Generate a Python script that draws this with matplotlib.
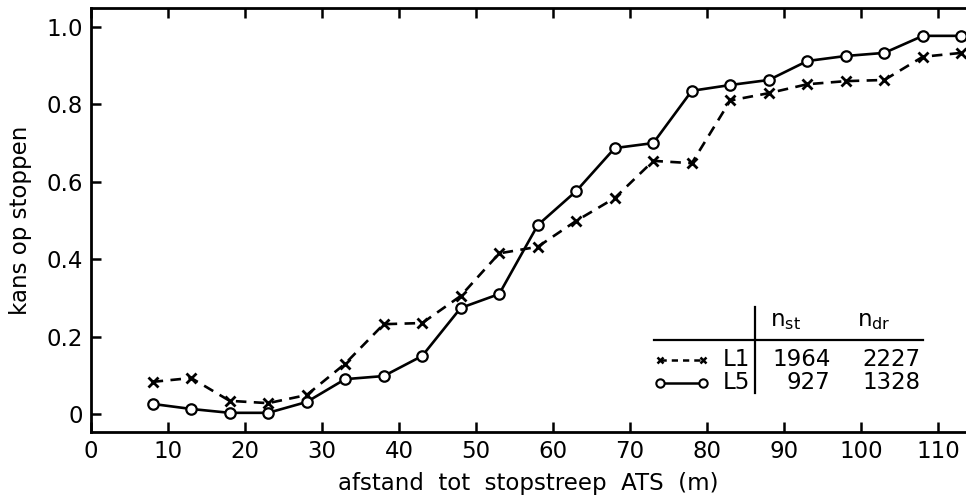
import numpy as np
import matplotlib
matplotlib.use("Agg")
import matplotlib.pyplot as plt
from matplotlib.lines import Line2D

plt.rcParams["font.family"] = "DejaVu Sans"
plt.rcParams["mathtext.default"] = "regular"

# afstand tot stopstreep (m)
afstand = [8, 13, 18, 23, 28, 33, 38, 43, 48, 53, 58, 63, 68, 73, 78, 83, 88, 93, 98, 103, 108, 113]

# kans op stoppen
kans_L1 = [0.083, 0.093, 0.034, 0.028, 0.049, 0.13, 0.232, 0.235, 0.305, 0.415, 0.432,
           0.499, 0.558, 0.654, 0.648, 0.81, 0.829, 0.852, 0.86, 0.863, 0.923, 0.933]
kans_L5 = [0.026, 0.013, 0.003, 0.003, 0.031, 0.09, 0.098, 0.15, 0.274, 0.31, 0.488,
           0.576, 0.687, 0.70, 0.835, 0.85, 0.863, 0.912, 0.925, 0.933, 0.977, 0.977]

# tabel
namen = ["L1", "L5"]
n_st = [1964, 927]
n_dr = [2227, 1328]

xticks = [0, 10, 20, 30, 40, 50, 60, 70, 80, 90, 100, 110]
yticks = [0, 0.2, 0.4, 0.6, 0.8, 1.0]
ylabels = ["0", "0.2", "0.4", "0.6", "0.8", "1.0"]

fig = plt.figure(figsize=(9.66, 4.99), dpi=100)
ax = fig.add_axes([0.0942, 0.1343, 0.9058, 0.8497])

ax.plot(afstand, kans_L1, color="black", lw=1.9, ls=(0, (4, 2.8)),
        marker="x", ms=7, mew=2, clip_on=False)
ax.plot(afstand, kans_L5, color="black", lw=1.9, ls="-",
        marker="o", ms=7.5, mew=1.6, mfc="white", clip_on=False)

ax.set_xlim(0, 113.6)
ax.set_ylim(-0.0465, 1.049)
ax.set_xticks(xticks)
ax.set_yticks(yticks)
ax.set_yticklabels(ylabels)
ax.tick_params(direction="in", length=7.5, width=1.8, labelsize=16.5, pad=6)
ax.tick_params(axis="x", top=True)
ax.spines["right"].set_visible(False)
for s in ["left", "bottom", "top"]:
    ax.spines[s].set_linewidth(2)

ax.set_xlabel("afstand  tot  stopstreep  ATS  (m)", fontsize=16.5, labelpad=6)
ax.set_ylabel("kans op stoppen", fontsize=16.5, labelpad=10)

# tabel rechtsonder
tr = ax.transAxes
ax.add_line(Line2D([0.644, 0.951], [0.217, 0.217], color="black", lw=1.6, transform=tr))
ax.add_line(Line2D([0.759, 0.759], [0.092, 0.295], color="black", lw=1.6, transform=tr))
ax.text(0.776, 0.262, "$n_{st}$", transform=tr, fontsize=16.5, va="center")
ax.text(0.875, 0.262, "$n_{dr}$", transform=tr, fontsize=16.5, va="center")
rij_y = [0.170, 0.116]
stijlen = [dict(ls=(0, (2.5, 2)), marker="x", ms=5, mew=1.8, mfc="black"),
           dict(ls="-", marker="o", ms=6, mew=1.5, mfc="white")]
for i in range(2):
    ax.add_line(Line2D([0.650, 0.700], [rij_y[i], rij_y[i]], color="black", lw=1.8,
                       transform=tr, **stijlen[i]))
    ax.text(0.753, rij_y[i], namen[i], transform=tr, fontsize=16.5, va="center", ha="right")
    ax.text(0.845, rij_y[i], str(n_st[i]), transform=tr, fontsize=16.5, va="center", ha="right")
    ax.text(0.948, rij_y[i], str(n_dr[i]), transform=tr, fontsize=16.5, va="center", ha="right")

fig.savefig("out.png", dpi=100)
